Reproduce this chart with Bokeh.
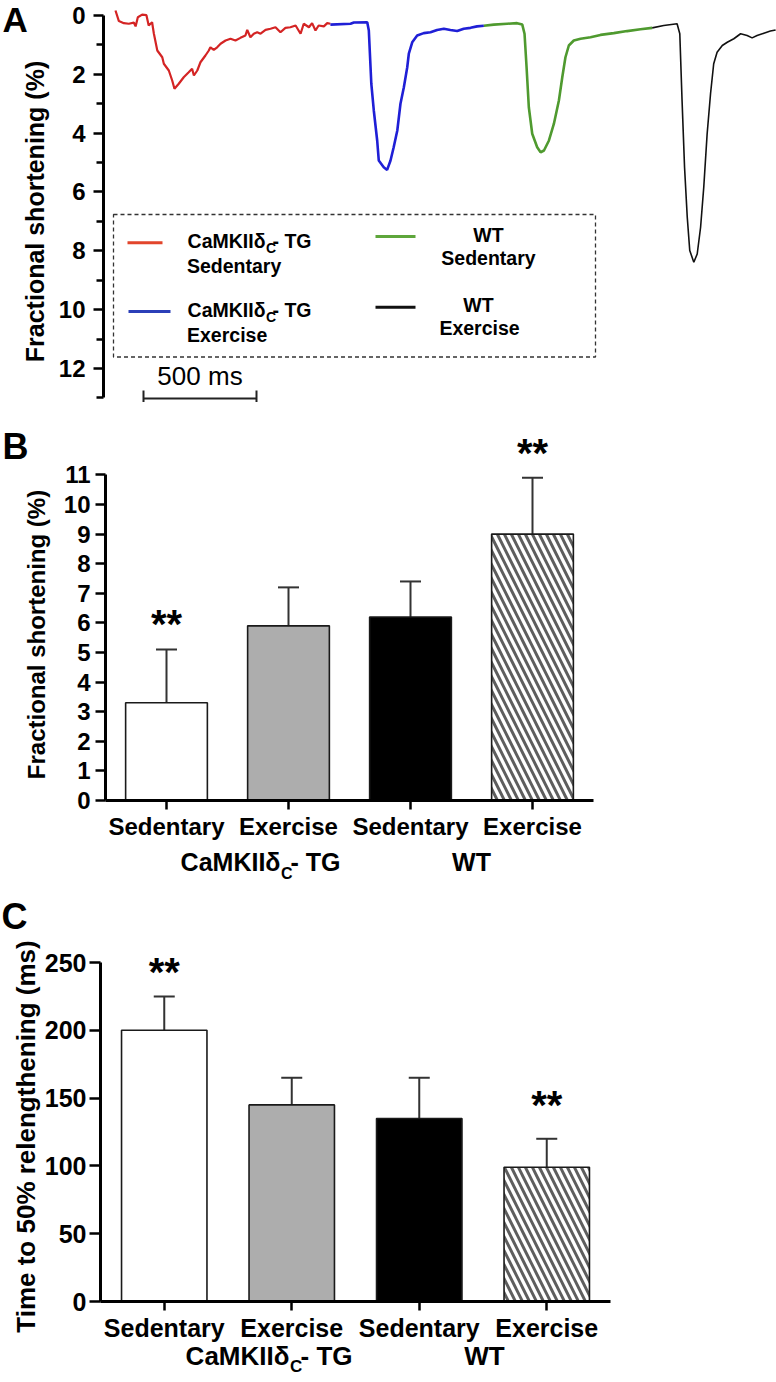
from bokeh.plotting import figure
from bokeh.layouts import column
from bokeh.models import Range1d, FixedTicker, Label, Whisker, TeeHead, ColumnDataSource
from bokeh.core.properties import value
from bokeh.embed import file_html
from bokeh.resources import INLINE

# ---------------- data ----------------
# Panel A: representative traces (time in ms, fractional shortening in %)
red_t = [53, 68, 90, 112, 134, 142, 152, 171, 190, 200, 215, 223, 238, 260, 267, 289, 304, 314, 333, 355,
         377, 392, 400, 415, 429, 451, 466, 473, 488, 503, 518, 540, 562, 584, 606, 628, 636, 650, 665, 680,
         695, 717, 739, 761, 783, 805, 827, 850, 872, 886, 909, 923, 938, 952, 975, 990, 1004]
red_v = [-0.17, 0.19, 0.26, 0.28, 0.24, 0.37, 0.06, -0.03, -0.01, 0.34, 0.23, 0.62, 1.19, 1.42, 1.64, 1.87, 2.21,
         2.49, 2.32, 2.10, 1.93, 1.81, 2.04, 1.87, 1.59, 1.36, 1.19, 1.08, 1.17, 1.08, 0.96, 0.85, 0.79, 0.85,
         0.76, 0.68, 0.49, 0.74, 0.62, 0.57, 0.62, 0.49, 0.45, 0.40, 0.57, 0.42, 0.40, 0.34, 0.62, 0.28, 0.40,
         0.26, 0.51, 0.34, 0.37, 0.26, 0.28]
blue_t = [1004, 1093, 1108, 1167, 1174, 1185, 1196, 1211, 1218, 1240, 1255, 1270, 1284, 1300, 1314, 1329, 1344,
          1351, 1366, 1388, 1417, 1447, 1476, 1506, 1535, 1565, 1594, 1624, 1653, 1683]
blue_v = [0.31, 0.28, 0.24, 0.23, 0.51, 2.32, 3.23, 4.25, 4.93, 5.16, 5.25, 4.93, 4.48, 3.91, 3.00, 2.44, 1.76,
          1.30, 0.91, 0.68, 0.60, 0.57, 0.49, 0.45, 0.49, 0.53, 0.45, 0.42, 0.37, 0.35]
green_t = [1683, 1727, 1786, 1830, 1853, 1863, 1872, 1882, 1897, 1919, 1934, 1949, 1971, 1993, 2015, 2030, 2044,
           2059, 2081, 2111, 2155, 2199, 2258, 2317, 2376, 2428]
green_v = [0.35, 0.31, 0.28, 0.26, 0.31, 0.62, 1.76, 3.12, 4.02, 4.48, 4.65, 4.59, 4.25, 3.68, 2.89, 2.10, 1.42,
           1.02, 0.85, 0.79, 0.74, 0.66, 0.60, 0.53, 0.47, 0.42]
black_t = [2428, 2479, 2538, 2550, 2560, 2571, 2583, 2594, 2612, 2627, 2642, 2656, 2671, 2686, 2700, 2715, 2738,
           2760, 2789, 2819, 2848, 2870, 2892, 2922, 2951, 2974]
black_v = [0.42, 0.34, 0.28, 0.62, 2.89, 5.16, 6.86, 7.99, 8.39, 8.11, 7.20, 5.84, 4.02, 2.66, 1.64, 1.25, 1.02,
           0.91, 0.79, 0.62, 0.68, 0.76, 0.68, 0.60, 0.53, 0.49]
scale_bar_ms = 500
a_ticks = [0, 2, 4, 6, 8, 10, 12]
a_minor = [1, 3, 5, 7, 9, 11, 13]

# Panels B and C
categories = ["Sedentary", "Exercise", "Sedentary", "Exercise"]
tg_main, tg_sub, tg_tail = "CaMKIIδ", "C", "- TG"
wt_name = "WT"
fs_mean = [3.3, 5.9, 6.2, 9.0]
fs_upper = [5.1, 7.2, 7.4, 10.9]
fs_sig = ["**", "", "", "**"]
b_ticks = [0, 1, 2, 3, 4, 5, 6, 7, 8, 9, 10, 11]
rel_mean = [200, 145, 135, 99]
rel_upper = [225, 165, 165, 120]
rel_sig = ["**", "", "", "**"]
c_ticks = [0, 50, 100, 150, 200, 250]

# ---------------- style ----------------
FONT = "Liberation Sans"
W = 776
K = 0.38  # baseline correction (fraction of font size)
TRACE_COLORS = ["#d42424", "#1f1fd6", "#4f9a2f", "#111111"]
LEG_COLORS = ["#e2452b", "#2b3fb8", "#5ea63b", "#111111"]
BAR_FILL = ["white", "#adadad", "black", "white"]
BAR_HATCH = [" ", " ", " ", "left_diagonal_line"]


def mk_fig(height, xr, yr, xaxis=True):
    p = figure(width=W, height=height, x_range=xr, y_range=yr, output_backend="svg",
               toolbar_location=None, title=None, min_border_left=0, min_border_right=0,
               min_border_top=0, min_border_bottom=0,
               x_axis_location="below" if xaxis else None)
    p.grid.visible = False
    p.outline_line_color = None
    return p


def style_axis(ax, size, standoff, tick_out, loc, bounds):
    ax.fixed_location = loc
    ax.bounds = bounds
    ax.axis_line_width = 3
    ax.axis_line_color = "black"
    ax.major_tick_line_width = 2.5
    ax.major_tick_line_color = "black"
    ax.minor_tick_line_width = 2.5
    ax.minor_tick_line_color = "black"
    ax.major_tick_in = 0
    ax.minor_tick_in = 0
    ax.major_tick_out = tick_out
    ax.minor_tick_out = 0
    ax.major_label_standoff = standoff
    ax.major_label_text_font = FONT
    ax.major_label_text_font_style = "bold"
    ax.major_label_text_font_size = size
    ax.major_label_text_color = "black"


def lab(p, X, Y, px, py, text, size, bold=True, align="left", angle=0):
    """Place a text whose alphabetic baseline passes through page pixel (px, py)."""
    if angle == 0:
        x, y = X(px), Y(py - K * size)
    else:
        x, y = X(px - K * size), Y(py)
    p.add_layout(Label(x=x, y=y, text=text, text_font=FONT, text_font_size=f"{size}px",
                       text_font_style="bold" if bold else "normal", text_align=align,
                       text_baseline="alphabetic", angle=angle, angle_units="deg",
                       text_color="black"))


# ================= Panel A (page y 0..402) =================
def aX(px):
    return (px - 103) * 500 / 113


def aY(py):
    return (py - 15) / 29.41


pA = mk_fig(402, Range1d(aX(0), aX(W)), Range1d(aY(402), aY(0)), xaxis=False)
ya = pA.yaxis[0]
style_axis(ya, "24px", 8, 10, aX(103), (0, 13))
ya.ticker = FixedTicker(ticks=a_ticks, minor_ticks=a_minor)
ya.minor_tick_out = 7

traces = [(red_t, red_v, 2.2), (blue_t, blue_v, 2.6), (green_t, green_v, 2.6), (black_t, black_v, 1.6)]
for (t, v, lw), c in zip(traces, TRACE_COLORS):
    pA.line(t, v, line_color=c, line_width=lw)

# legend box (dashed)
pA.quad(left=[aX(113)], right=[aX(595)], top=[aY(214)], bottom=[aY(356.5)], fill_alpha=0,
        line_color="#333333", line_dash="4 3", line_width=1.3)
# legend lines
leg_lines = [(127, 162, 242.3), (128, 170, 311), (375, 415, 236), (375, 415, 306.7)]
for (x0, x1, yy), c in zip(leg_lines, LEG_COLORS):
    pA.segment(x0=[aX(x0)], x1=[aX(x1)], y0=[aY(yy)], y1=[aY(yy)], line_color=c, line_width=3)
# legend texts
LFS = 19.5
for base1, base2, second in [(248.3, 272.7, "Sedentary"), (317.3, 341.7, "Exercise")]:
    lab(pA, aX, aY, 265, base1, tg_main, LFS, align="right")
    lab(pA, aX, aY, 265.5, base1 + 5, tg_sub, 14)
    lab(pA, aX, aY, 272, base1, tg_tail, LFS)
    lab(pA, aX, aY, 186.5, base2, second, LFS)
for cx1, base1, cx2, base2, second in [(488, 241.7, 488, 265, "Sedentary"), (478, 311.7, 479, 335, "Exercise")]:
    lab(pA, aX, aY, cx1, base1, wt_name, LFS, align="center")
    lab(pA, aX, aY, cx2, base2, second, LFS, align="center")

# scale bar
sb0 = aX(143)
sb1 = sb0 + scale_bar_ms
pA.segment(x0=[sb0], x1=[sb1], y0=[aY(398)], y1=[aY(398)], line_color="#222222", line_width=2)
pA.segment(x0=[sb0, sb1], x1=[sb0, sb1], y0=[aY(390), aY(390)], y1=[aY(406), aY(406)],
           line_color="#222222", line_width=2)
pA.add_layout(Label(x=(sb0 + sb1) / 2, y=aY(385 - K * 26), text=f"{scale_bar_ms} ms", text_font=FONT,
                    text_font_size="26px", text_align="center", text_baseline="alphabetic",
                    text_color="black"))

lab(pA, aX, aY, 2, 32.5, "A", 35)
lab(pA, aX, aY, 44, 211, "Fractional shortening (%)", 25, align="center", angle=90)


# ================= bar panel helper =================
def bar_panel(p, xs, mean, upper, sig, ppu, gaps, star_fs=40):
    src = ColumnDataSource(dict(x=xs, top=mean, upper=upper, fill=BAR_FILL, hatch=BAR_HATCH))
    p.vbar(x="x", top="top", bottom=0, width=0.67, source=src, fill_color="fill",
           line_color="#1a1a1a", line_width=1.6, hatch_pattern="hatch", hatch_color="#5e5e5e",
           hatch_weight=3, hatch_scale=14)
    p.add_layout(Whisker(source=src, base="x", lower="top", upper="upper", lower_head=None,
                         upper_head=TeeHead(size=21, line_width=2, line_color="#333333"),
                         line_width=2, line_color="#333333"))
    star_y = [u + (g - 0.12 * star_fs) / ppu for u, g in zip(upper, gaps)]
    p.text(x=xs, y=star_y, text=sig, text_font=value(FONT), text_font_style="bold",
           text_font_size=f"{star_fs}px", text_align="center", text_baseline="alphabetic",
           text_color="black")


xs = list(range(1, len(categories) + 1))
overrides = {x: c for x, c in zip(xs, categories)}


# ================= Panel B (page y 402..895) =================
def bX(px):
    return 1 + (px - 166) / 122


def bY(py):
    return (800 - py) / 29.6


pB = mk_fig(493, Range1d(bX(0), bX(W)), Range1d(bY(895), bY(402)))
bar_panel(pB, xs, fs_mean, fs_upper, fs_sig, 29.6, [30, 30, 30, 30])
yb = pB.yaxis[0]
style_axis(yb, "24px", 5, 10, bX(105), (0, 11))
yb.ticker = FixedTicker(ticks=b_ticks)
xb = pB.xaxis[0]
style_axis(xb, "24px", 3, 9, 0, (0.5, 4.5))
xb.ticker = FixedTicker(ticks=xs)
xb.major_label_overrides = overrides

lab(pB, bX, bY, 280, 871, tg_main, 25, align="right")
lab(pB, bX, bY, 280.5, 879, tg_sub, 16)
lab(pB, bX, bY, 290, 871, tg_tail, 25)
lab(pB, bX, bY, 471, 871, wt_name, 25, align="center")
lab(pB, bX, bY, 2, 460, "B", 36)
lab(pB, bX, bY, 45, 634, "Fractional shortening (%)", 24, align="center", angle=90)


# ================= Panel C (page y 895..1382) =================
def cX(px):
    return 1 + (px - 163.75) / 127.5


def cY(py):
    return (1301 - py) / 1.356


pC = mk_fig(487, Range1d(cX(0), cX(W)), Range1d(cY(1382), cY(895)))
bar_panel(pC, xs, rel_mean, rel_upper, rel_sig, 1.356, [29, 0, 0, 39])
yc = pC.yaxis[0]
style_axis(yc, "25px", 3, 11, cX(100), (0, 250))
yc.ticker = FixedTicker(ticks=c_ticks)
xc = pC.xaxis[0]
style_axis(xc, "25px", 3, 9, 0, (0.5, 4.5))
xc.ticker = FixedTicker(ticks=xs)
xc.major_label_overrides = overrides

lab(pC, cX, cY, 289, 1365, tg_main, 26, align="right")
lab(pC, cX, cY, 289.5, 1372, tg_sub, 17)
lab(pC, cX, cY, 300, 1365, tg_tail, 26)
lab(pC, cX, cY, 484, 1365, wt_name, 26, align="center")
lab(pC, cX, cY, 1, 930, "C", 36)
lab(pC, cX, cY, 35.6, 1136, "Time to 50% relengthening (ms)", 26, align="center", angle=90)

layout = column(pA, pB, pC)
open("out.html", "w").write(file_html(layout, INLINE))
